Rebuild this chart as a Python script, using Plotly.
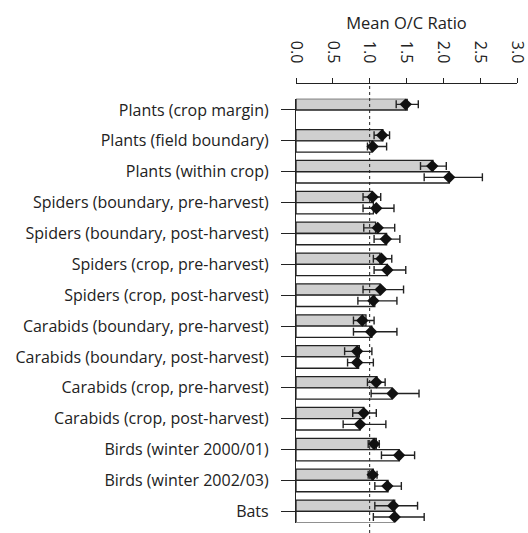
import plotly.graph_objects as go

# Study groups, top to bottom
categories = [
    "Plants (crop margin)", "Plants (field boundary)", "Plants (within crop)",
    "Spiders (boundary, pre-harvest)", "Spiders (boundary, post-harvest)",
    "Spiders (crop, pre-harvest)", "Spiders (crop, post-harvest)",
    "Carabids (boundary, pre-harvest)", "Carabids (boundary, post-harvest)",
    "Carabids (crop, pre-harvest)", "Carabids (crop, post-harvest)",
    "Birds (winter 2000/01)", "Birds (winter 2002/03)", "Bats",
]

# First estimate (grey bars)
grey_bar = [1.51, 1.18, 1.86, 1.03, 1.08, 1.14, 1.14, 0.95, 0.86, 1.10, 0.92, 1.09, 1.05, 1.34]
grey_mean = [1.49, 1.17, 1.85, 1.04, 1.11, 1.16, 1.15, 0.90, 0.83, 1.09, 0.92, 1.06, 1.04, 1.32]
grey_lo = [1.36, 1.06, 1.69, 0.91, 0.92, 1.05, 0.91, 0.78, 0.66, 0.97, 0.77, 0.98, 0.98, 1.07]
grey_hi = [1.66, 1.27, 2.04, 1.15, 1.34, 1.30, 1.46, 1.06, 1.03, 1.21, 1.09, 1.13, 1.10, 1.65]

# Second estimate (white bars); no value for the crop margin plants
white_bar = [None, 1.03, 2.08, 1.05, 1.23, 1.24, 1.07, 1.03, 0.85, 1.30, 0.87, 1.40, 1.25, 1.34]
white_mean = [None, 1.04, 2.08, 1.09, 1.22, 1.24, 1.05, 1.02, 0.83, 1.31, 0.87, 1.40, 1.24, 1.34]
white_lo = [None, 0.97, 1.74, 0.91, 1.06, 1.06, 0.84, 0.78, 0.70, 1.02, 0.64, 1.16, 1.07, 1.05]
white_hi = [None, 1.23, 2.53, 1.33, 1.41, 1.49, 1.37, 1.37, 1.05, 1.67, 1.22, 1.61, 1.43, 1.74]

x_ticks = [0.0, 0.5, 1.0, 1.5, 2.0, 2.5, 3.0]

BAR_W = 0.365
idx = list(range(len(categories)))
y_grey = [i - BAR_W / 2 for i in idx]
y_white = [i + BAR_W / 2 for i in idx]


def err(mean, lo, hi):
    plus = [None if m is None else h - m for m, h in zip(mean, hi)]
    minus = [None if m is None else m - l for m, l in zip(mean, lo)]
    return plus, minus


fig = go.Figure()

for bars, ys, fill in ((grey_bar, y_grey, "#cfcfcf"), (white_bar, y_white, "white")):
    fig.add_trace(go.Bar(
        x=bars, y=ys, orientation="h", width=BAR_W, base=0,
        marker=dict(color=fill, line=dict(color="#222", width=1.3)),
        showlegend=False, hoverinfo="skip",
    ))

for mean, lo, hi, ys in ((grey_mean, grey_lo, grey_hi, y_grey),
                         (white_mean, white_lo, white_hi, y_white)):
    plus, minus = err(mean, lo, hi)
    fig.add_trace(go.Scatter(
        x=mean, y=ys, mode="markers",
        marker=dict(symbol="diamond", size=9.5, color="#111"),
        error_x=dict(type="data", symmetric=False, array=plus, arrayminus=minus,
                     color="#222", thickness=1.4, width=4),
        showlegend=False, hoverinfo="skip",
    ))

# Reference line at ratio = 1
fig.add_shape(type="line", xref="x", yref="paper", x0=1, x1=1, y0=0, y1=1,
              line=dict(color="#222", width=1, dash="dot"))

fig.update_layout(
    width=528, height=533,
    margin=dict(l=296, r=11, t=83, b=0),
    paper_bgcolor="white", plot_bgcolor="white",
    font=dict(family="Open Sans", size=16, color="#222"),
    barmode="overlay",
    xaxis=dict(
        side="top", anchor="free", position=1,
        range=[0, 3], tickvals=x_ticks, ticktext=[f"{v:.1f}" for v in x_ticks],
        tickangle=90, ticks="outside", ticklen=5, tickcolor="#222",
        ticklabelstandoff=9, ticklabeloverflow="allow",
        showline=True, linecolor="#222", linewidth=1.2,
        showgrid=False, zeroline=False,
        title=dict(text="Mean O/C Ratio", standoff=6, font=dict(size=16.5)),
    ),
    yaxis=dict(
        domain=[0.0231, 0.9651],
        range=[len(categories) - 1 + BAR_W, -BAR_W],
        tickvals=idx, ticktext=categories,
        ticks="outside", ticklen=14, tickcolor="#222",
        ticklabelstandoff=9,
        showline=True, linecolor="#222", linewidth=1.2,
        showgrid=False, zeroline=False,
    ),
)

fig.write_html("out.html")
